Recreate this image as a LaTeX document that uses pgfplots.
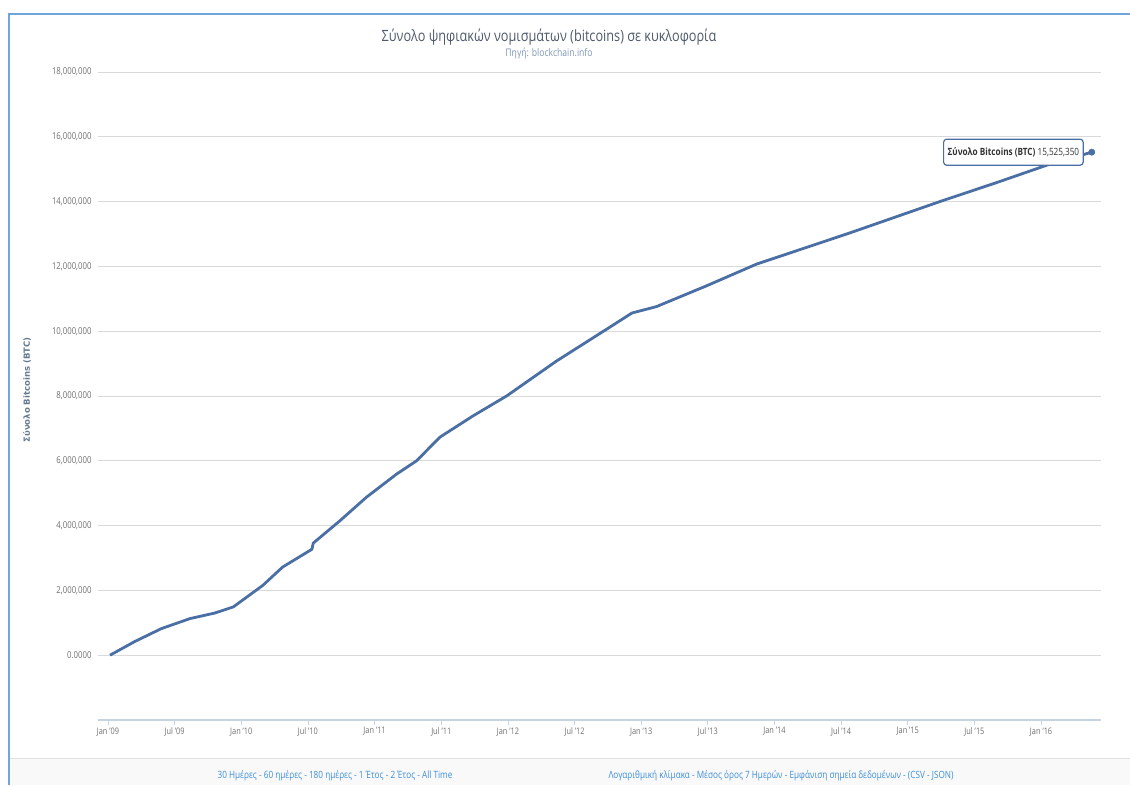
\documentclass[border=0pt]{standalone}
\usepackage{fontspec}
\setmainfont{Open Sans}[FakeStretch=0.82]
\newfontfamily\labfont{DejaVu Sans}
\usepackage{pgfplots}
\pgfplotsset{compat=1.18}
\definecolor{linec}{HTML}{4A6FA5}
\definecolor{gridc}{HTML}{D9D9D9}
\definecolor{tickc}{HTML}{707070}
\definecolor{framec}{HTML}{6FA4DC}
\definecolor{titlec}{HTML}{4F5B6B}
\definecolor{subc}{HTML}{7F98B5}
\definecolor{footc}{HTML}{3C8ED8}
\definecolor{axisc}{HTML}{C6D4E2}
\begin{document}
\begin{tikzpicture}[x=1pt,y=1pt]
\path[use as bounding box,fill=white] (0,0) rectangle (1130,785);
% footer band
\fill[gray!5] (10,0) rectangle (1130,27);
\draw[gray!25,line width=0.8pt] (10,27) -- (1130,27);
% frame
\draw[framec,line width=2pt] (9,0) -- (9,771) -- (1130,771);
% titles
\node[font=\fontsize{15.5}{18}\selectfont,text=titlec] at (549,748) {Σύνολο ψηφιακών νομισμάτων (bitcoins) σε κυκλοφορία};
\node[font=\fontsize{10.5}{12}\selectfont,text=subc] at (549,731) {Πηγή: blockchain.info};
\node[rotate=90,font=\labfont\bfseries\fontsize{8.5}{10}\selectfont,text=subc!80!black] at (27,395) {Σύνολο Bitcoins (BTC)};
\begin{axis}[
  at={(98pt,65pt)}, anchor=south west,
  scale only axis, width=1003pt, height=648pt,
  xmin=2008.925, xmax=2016.449,
  ymin=-2000000, ymax=18000000,
  scaled y ticks=false,
  axis line style={draw=none},
  /pgf/number format/assume math mode=true,
  ytick={0,2000000,4000000,6000000,8000000,10000000,12000000,14000000,16000000,18000000},
  yticklabels={0.0000,{2,000,000},{4,000,000},{6,000,000},{8,000,000},{10,000,000},{12,000,000},{14,000,000},{16,000,000},{18,000,000}},
  ymajorgrids, grid style={gridc,line width=0.8pt},
  ytick style={draw=none},
  yticklabel style={font=\fontsize{9.5}{10}\selectfont,text=tickc,xshift=2pt},
  xtick={2009,2009.5,2010,2010.5,2011,2011.5,2012,2012.5,2013,2013.5,2014,2014.5,2015,2015.5,2016},
  xticklabels={Jan '09,Jul '09,Jan '10,Jul '10,Jan '11,Jul '11,Jan '12,Jul '12,Jan '13,Jul '13,Jan '14,Jul '14,Jan '15,Jul '15,Jan '16},
  xtick pos=bottom, tick align=outside,
  xtick style={axisc,line width=0.8pt},
  major tick length=5pt,
  xticklabel style={font=\fontsize{9}{10}\selectfont,text=tickc,yshift=1pt},
  clip=false,
]
\draw[axisc,line width=1.2pt] (rel axis cs:0,0) -- (rel axis cs:1,0);
\addplot[linec,line width=2.8pt,line join=round] coordinates {
(2009.015,0)
(2009.20,420000)
(2009.40,820000)
(2009.615,1130000)
(2009.80,1300000)
(2009.94,1490000)
(2010.16,2150000)
(2010.31,2720000)
(2010.53,3270000)
(2010.54,3460000)
(2010.74,4150000)
(2010.94,4880000)
(2011.165,5590000)
(2011.315,6000000)
(2011.49,6730000)
(2011.74,7390000)
(2011.99,8000000)
(2012.365,9080000)
(2012.74,10060000)
(2012.93,10560000)
(2013.115,10760000)
(2013.49,11400000)
(2013.865,12070000)
(2014.04,12310000)
(2014.57,13040000)
(2015.24,14000000)
(2015.69,14620000)
(2016.04,15120000)
(2016.38,15525350)
};
\addplot[only marks,mark=*,mark size=3.2pt,color=linec] coordinates {(2016.38,15525350)};
\node[anchor=east,draw=linec,line width=1.2pt,fill=white,rounded corners=3pt,inner sep=4pt,minimum height=26pt,font=\fontsize{10}{11}\selectfont,text=black!80] at (axis cs:2016.38,15525350) [xshift=-8pt] {\textbf{Σύνολο Bitcoins (BTC)}\ 15,525,350};
\end{axis}
\node[font=\fontsize{10}{12}\selectfont,text=footc] at (335,9) {30 Ημέρες - 60 ημέρες - 180 ημέρες - 1 Έτος - 2 Έτος - All Time};
\node[font=\fontsize{10}{12}\selectfont,text=footc] at (781,9) {Λογαριθμική κλίμακα - Μέσος όρος 7 Ημερών - Εμφάνιση σημεία δεδομένων - (CSV - JSON)};
\end{tikzpicture}
\end{document}
